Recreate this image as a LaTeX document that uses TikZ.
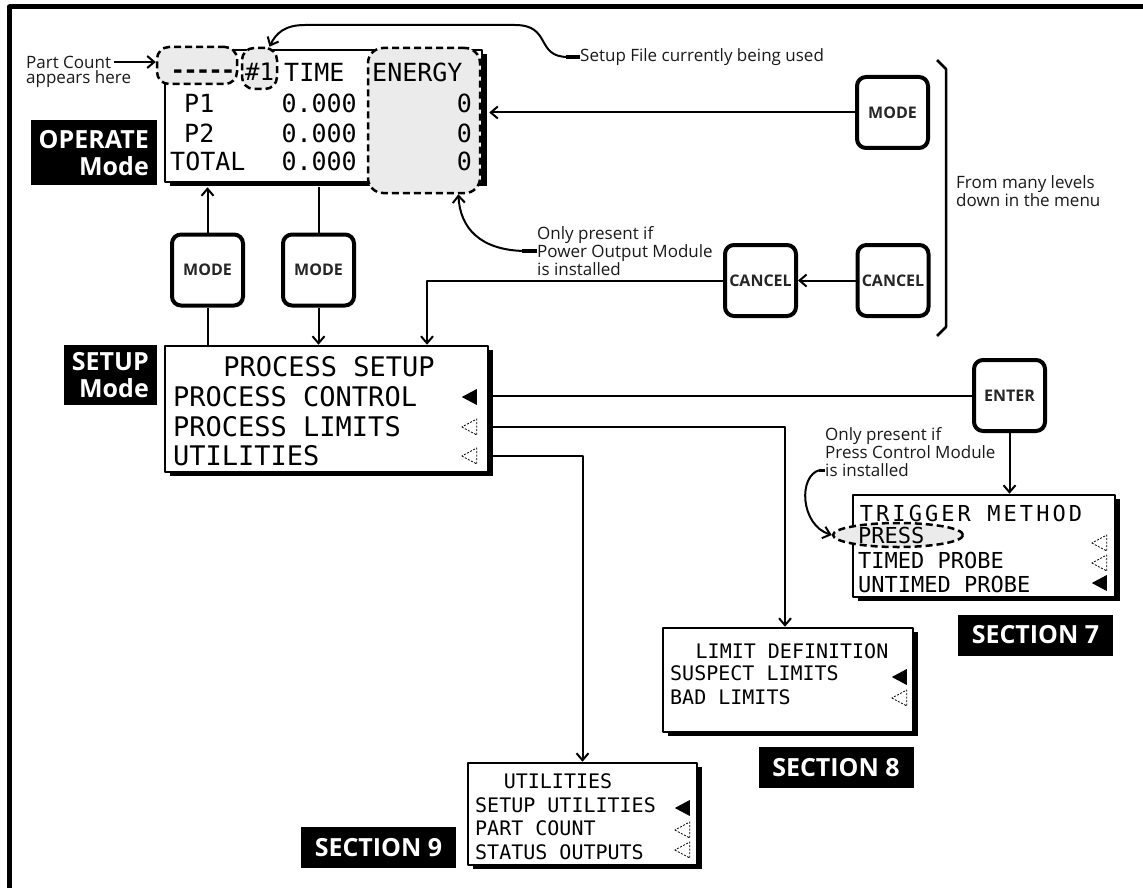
\documentclass[tikz,border=0pt]{standalone}
\usepackage{fontspec}
\setmainfont{Open Sans}
\newfontfamily\lcd{DejaVu Sans Mono}
\usetikzlibrary{arrows.meta,shapes.geometric,shadows}

\tikzset{
  wire/.style={line width=2pt},
  lcdbox/.style={draw, line width=2.5pt, fill=white, inner sep=0pt,
    drop shadow={shadow xshift=5pt, shadow yshift=-4pt, opacity=1, fill=black}},
  lcdtxt/.style={font=\lcd\fontsize{#1}{#1}\selectfont, inner sep=0pt,
    text height=0.73*#1pt, text depth=0pt},
  bubble/.style={draw, line width=2.5pt, dash pattern=on 7pt off 4pt, fill=black!8},
  btn/.style={draw, line width=4pt, rounded corners=9pt, fill=white,
    minimum width=71pt, minimum height=71pt, text=black!85,
    font=\bfseries\fontsize{16}{18}\selectfont},
  modelbl/.style={fill=black, text=white, align=right, inner xsep=8pt,
    font=\bfseries\fontsize{25}{27}\selectfont},
  section/.style={fill=black, text=white, minimum width=155pt, minimum height=41pt,
    font=\bfseries\fontsize{25}{28}\selectfont},
  note/.style={align=left, inner sep=0pt, text=black!90,
    font=\fontsize{17}{18}\selectfont},
  tri/.style={isosceles triangle, isosceles triangle stretches, shape border rotate=180,
    minimum width=16pt, minimum height=15pt, inner sep=0pt},
  selon/.style={tri, fill=black},
  seloff/.style={tri, draw, line width=0.8pt, dash pattern=on 2pt off 1.5pt}
}

\begin{document}
\begin{tikzpicture}[x=1pt, y=-1pt, line join=round, >={Straight Barb[length=7pt,width=12pt]}]
\useasboundingbox (0,0) rectangle (1143,888);
\draw[line width=5pt] (9.5,888) -- (9.5,7) -- (1143,7);

% operate display
\node[lcdbox, minimum width=317pt, minimum height=132pt] (op) at (323.5,116) {};
\coordinate (opedge) at ([xshift=6pt]op.east);
\node[bubble, rounded corners=12pt, minimum width=80pt, minimum height=37pt] (cntbub) at (197,65.5) {};
\node[bubble, rounded corners=12pt, minimum width=35pt, minimum height=41pt] (numbub) at (259.5,68.5) {};
\node[bubble, rounded corners=15pt, minimum width=112pt, minimum height=145pt] (engbub) at (424,120.5) {};
\node[lcdtxt=24, font=\lcd\bfseries\fontsize{24}{24}\selectfont\addfontfeatures{LetterSpace=-8}] (cnt) at (203,70) {-{}-{}-{}-{}-};
\node[lcdtxt=24] (num) at (259.5,72) {\#1};
\node[lcdtxt=25, anchor=west] (time) at (284,72) {TIME};
\node[lcdtxt=25, anchor=west] (energy) at (372,72) {ENERGY};
\foreach \x/\y/\lbl [count=\i] in {184/103/P1, 184/133/P2, 170/161/TOTAL}{
  \node[lcdtxt=25, anchor=west] (row\i) at (\x,\y) {\lbl};
  \node[lcdtxt=25, anchor=east] (t\i) at (357,\y) {0.000};
  \node[lcdtxt=25, anchor=east] (e\i) at (472,\y) {0};
}
\node[modelbl, anchor=north east, minimum height=65pt] (oplbl) at (157,120) {OPERATE\\Mode};

\node[note, anchor=west] (pc1) at (26,62) {Part Count};
\node[note, anchor=west] (pc2) at (26,79) {appears here};
\draw[wire,->] ([xshift=3pt]pc1.east) -- (pc1.east -| cntbub.west);

% buttons
\node[btn] (modeA) at (207.5,270) {MODE};
\node[btn] (modeB) at (318.5,270) {MODE};
\node[btn] (modeR) at (892.5,112.5) {MODE};
\node[btn] (cancelL) at (760.5,280.5) {CANCEL};
\node[btn] (cancelR) at (893,280.5) {CANCEL};
\node[btn] (enter) at (1009.5,395.5) {ENTER};

% setup display
\node[lcdbox, minimum width=323pt, minimum height=126pt] (setup) at (326.5,409) {};
\node[lcdtxt=27] (settitle) at (329,367) {PROCESS SETUP};
\node[lcdtxt=27, anchor=west] (pc) at (173,397) {PROCESS CONTROL};
\node[lcdtxt=27, anchor=west] (pl) at (173,427) {PROCESS LIMITS};
\node[lcdtxt=27, anchor=west] (ut) at (173,456) {UTILITIES};
\node[selon] (s1) at (472,397) {};
\node[seloff] (s2) at (472,427) {};
\node[seloff] (s3) at (472,456) {};
\node[modelbl, anchor=north east, minimum height=60pt] (setlbl) at (157,345) {SETUP\\Mode};

% trigger method
\node[lcdbox, minimum width=262pt, minimum height=102pt] (trig) at (984,546) {};
\node[bubble, ellipse, minimum width=130pt, minimum height=24pt] (press) at (898,535) {};
\node[lcdtxt=22, font=\lcd\fontsize{22}{22}\selectfont\addfontfeatures{LetterSpace=14}] (trigtitle) at (971,513) {TRIGGER METHOD};
\node[lcdtxt=22, anchor=west] (tp) at (858,535) {PRESS};
\node[lcdtxt=22, anchor=west] (tt) at (858,560) {TIMED PROBE};
\node[lcdtxt=22, anchor=west] (tu) at (858,584) {UNTIMED PROBE};
\node[seloff] (g1) at (1102,543) {};
\node[seloff] (g2) at (1102,563) {};
\node[selon] (g3) at (1102,583) {};
\node[section] (sec7) at (1035.5,635) {SECTION 7};

% limit definition
\node[lcdbox, minimum width=250pt, minimum height=104pt] (limits) at (788,680) {};
\node[lcdtxt=20] (limtitle) at (792,651) {LIMIT DEFINITION};
\node[lcdtxt=20, anchor=west] (ls) at (670,673) {SUSPECT LIMITS};
\node[lcdtxt=20, anchor=west] (lb) at (670,697) {BAD LIMITS};
\node[selon] (l1) at (902,677) {};
\node[seloff] (l2) at (902,698) {};
\node[section] (sec8) at (836,767.5) {SECTION 8};

% utilities
\node[lcdbox, minimum width=229pt, minimum height=102pt] (utils) at (582.5,814) {};
\node[lcdtxt=20] (uttitle) at (558,781) {UTILITIES};
\node[lcdtxt=20, anchor=west] (us) at (475,805) {SETUP UTILITIES};
\node[lcdtxt=20, anchor=west] (up) at (475,828) {PART COUNT};
\node[lcdtxt=20, anchor=west] (uo) at (475,852) {STATUS OUTPUTS};
\node[selon] (u1) at (685,808) {};
\node[seloff] (u2) at (685,830) {};
\node[seloff] (u3) at (685,850) {};
\node[section] (sec9) at (378.5,847.5) {SECTION 9};

% notes
\node[note, anchor=west] (filenote) at (580,57) {Setup File currently being used};
\node[note, anchor=west] (pownote) at (537,251) {Only present if\\Power Output Module\\is installed};
\node[note, anchor=west] (pressnote) at (825,452) {Only present if\\Press Control Module\\is installed};
\node[note, anchor=west] (menunote) at (956,191) {From many levels\\down in the menu};
\draw[line width=2.5pt] (937,60) -- (946,69) -- (946,327) -- (937,336);

% connectors
\draw[wire,->] (modeA.north) -- ([yshift=-4pt]modeA.north |- op.south);
\draw[wire] (modeA.south) -- (modeA.south |- setup.north);
\draw[wire] ([yshift=-4pt]modeB.north |- op.south) -- (modeB.north);
\draw[wire,->] (modeB.south) -- (modeB.south |- setup.north);
\draw[wire,->] (modeR.west) -- (modeR.west -| opedge);
\draw[wire,->] (cancelR.west) -- (cancelL.east);
\draw[wire,->] (cancelL.west) -| ([xshift=100.5pt]setup.north);
\draw[wire] (enter.west -| setup.east) -- (enter.west);
\draw[wire,->] (enter.south) -- (enter.south |- trig.north);
\draw[wire,->] (pl -| setup.east) -| ([xshift=-3pt]limits.north);
\draw[wire,->] (ut -| setup.east) -| (utils.north);

% pointer curves
\draw[line width=4pt] (filenote.west) -- ++(-14,0);
\draw[wire,->] ([xshift=-12pt]filenote.west) .. controls (535,57) and (552,25) .. (515,25)
  -- (305,25) .. controls (285,25) and (276,33) .. ([xshift=10pt]numbub.north);
\draw[line width=4pt] (pownote.west) -- ++(-15,0);
\draw[wire,->] ([xshift=-13pt]pownote.west) .. controls (480,250) and (460,228) .. (engbub.-65);
\draw[line width=3pt] ([yshift=-18pt]pressnote.west) -- ++(-6,0);
\draw[wire,->] ([xshift=-5pt,yshift=-18pt]pressnote.west) .. controls (798,475) and (800,525) .. (press.west);
\end{tikzpicture}
\end{document}
